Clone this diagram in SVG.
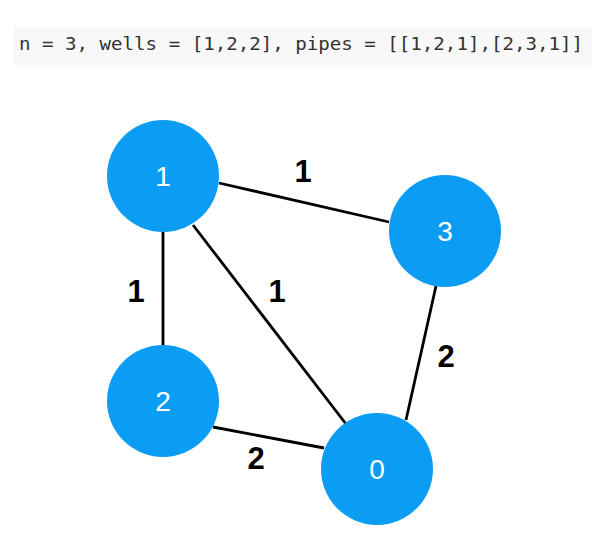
<svg xmlns="http://www.w3.org/2000/svg" width="603" height="551" viewBox="0 0 603 551">
<style>
.node{fill:#0b9cf4}
.nl{fill:#fff;font-family:"Liberation Sans",Arial,sans-serif;font-size:28px;text-anchor:middle}
.el{fill:#000;font-family:"Liberation Sans",Arial,sans-serif;font-size:31px;font-weight:bold;text-anchor:middle}
.edge{stroke:#000;stroke-width:2.8;fill:none}
</style>
<rect x="14" y="27" width="578" height="38" fill="#f8f8f8"/>
<text x="19" y="50" font-family="'DejaVu Sans Mono',monospace" font-size="17" fill="#333" textLength="564" lengthAdjust="spacingAndGlyphs">n = 3, wells = [1,2,2], pipes = [[1,2,1],[2,3,1]]</text>
<g id="connectors">
<line class="edge" x1="219" y1="183" x2="389" y2="222"/>
<line class="edge" x1="163" y1="230" x2="163" y2="346"/>
<line class="edge" x1="193" y1="225" x2="346" y2="424"/>
<line class="edge" x1="436" y1="286" x2="406" y2="420"/>
<line class="edge" x1="213" y1="427" x2="324" y2="448"/>
<text class="el" x="303" y="182">1</text>
<text class="el" x="136" y="302">1</text>
<text class="el" x="277" y="302">1</text>
<text class="el" x="446" y="367">2</text>
<text class="el" x="256" y="469">2</text>
</g>
<g id="node1"><circle class="node" cx="163" cy="176" r="56"/><text class="nl" x="163" y="186">1</text></g>
<g id="node3"><circle class="node" cx="445" cy="231" r="56"/><text class="nl" x="445" y="241">3</text></g>
<g id="node2"><circle class="node" cx="163" cy="401" r="56"/><text class="nl" x="163" y="411">2</text></g>
<g id="node0"><circle class="node" cx="377" cy="469" r="56"/><text class="nl" x="377" y="479">0</text></g>
</svg>
